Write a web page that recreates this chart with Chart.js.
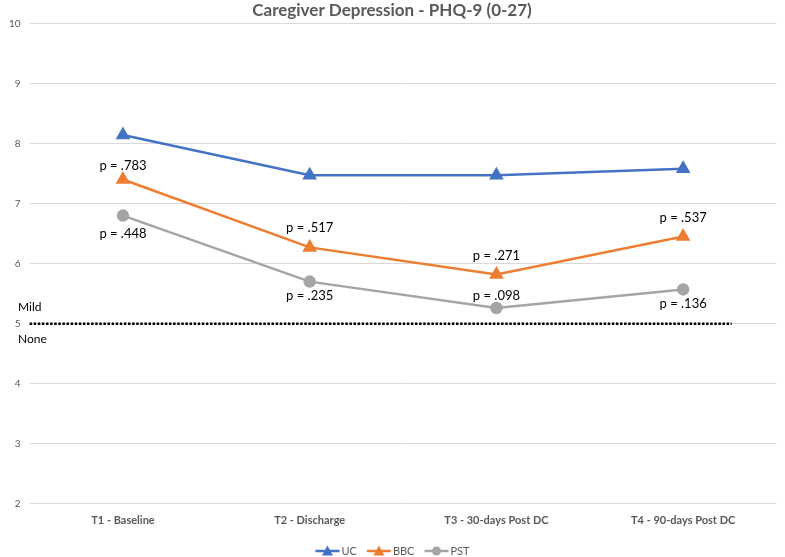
<!DOCTYPE html>
<html>
<head>
<meta charset="utf-8">
<title>Caregiver Depression - PHQ-9</title>
<script src="https://cdn.jsdelivr.net/npm/chart.js@4.4.0/dist/chart.umd.min.js"></script>
<style>
    html, body { margin: 0; padding: 0; background: #fff; }
    #wrap { width: 785px; height: 557px; }
</style>
</head>
<body>
<div id="wrap"><canvas id="phqChart" width="785" height="557"></canvas></div>
<script>
// Chart data
const timepoints = ['T1 - Baseline', 'T2 - Discharge', 'T3 - 30-days Post DC', 'T4 - 90-days Post DC'];
const ucScores = [8.14, 7.47, 7.47, 7.58];
const bbcScores = [7.40, 6.27, 5.82, 6.45];
const pstScores = [6.80, 5.70, 5.26, 5.57];
const bbcPValues = ['p = .783', 'p = .517', 'p = .271', 'p = .537'];
const pstPValues = ['p = .448', 'p = .235', 'p = .098', 'p = .136'];
const cutoffScore = 5;

// label offsets in px from the point (negative = above)
const bbcLabelShift = [-14, -20, -19, -19];
const pstLabelShift = [18, 14, -12, 14];

const FONT = 'Lato, "Open Sans", sans-serif';
const GREY_TEXT = '#595959';

// p-values, the dotted cut-off line and Mild / None labels
const notesPlugin = {
    id: 'notes',
    afterDatasetsDraw(chart) {
        const ctx = chart.ctx;
        const x = chart.scales.x;
        const y = chart.scales.y;
        const area = chart.chartArea;

        ctx.save();
        // cut-off line
        const yCut = y.getPixelForValue(cutoffScore);
        ctx.strokeStyle = '#000';
        ctx.lineWidth = 2.5;
        ctx.setLineDash([2.5, 1.6]);
        ctx.beginPath();
        ctx.moveTo(area.left, yCut);
        ctx.lineTo(x.getPixelForValue(3.26), yCut);
        ctx.stroke();
        ctx.setLineDash([]);

        ctx.fillStyle = '#000';
        ctx.font = '12px ' + FONT;
        ctx.textAlign = 'left';
        ctx.textBaseline = 'middle';
        ctx.fillText('Mild', 18, yCut - 17);
        ctx.fillText('None', 18, yCut + 15);

        // p-values
        ctx.font = '13px ' + FONT;
        ctx.textAlign = 'center';
        timepoints.forEach((t, i) => {
            const px = x.getPixelForValue(i);
            ctx.fillText(bbcPValues[i], px, y.getPixelForValue(bbcScores[i]) + bbcLabelShift[i]);
            ctx.fillText(pstPValues[i], px, y.getPixelForValue(pstScores[i]) + pstLabelShift[i]);
        });
        ctx.restore();
    }
};

// Excel-style legend: short line with the marker on it, then the name
const lineLegendPlugin = {
    id: 'lineLegend',
    afterDraw(chart) {
        const ctx = chart.ctx;
        const sets = chart.data.datasets;
        const swatchW = 24, textGap = 2, itemGap = 10;
        const legendY = chart.height - 6;

        ctx.save();
        ctx.font = '11px ' + FONT;
        const widths = sets.map(ds => swatchW + textGap + ctx.measureText(ds.label).width);
        const total = widths.reduce((a, b) => a + b, 0) + itemGap * (sets.length - 1);
        let lx = (chart.width - total) / 2;

        sets.forEach((ds, i) => {
            ctx.strokeStyle = ds.borderColor;
            ctx.fillStyle = ds.borderColor;
            ctx.lineWidth = 2.5;
            ctx.beginPath();
            ctx.moveTo(lx, legendY);
            ctx.lineTo(lx + swatchW, legendY);
            ctx.stroke();
            const cx = lx + swatchW / 2;
            ctx.beginPath();
            if (ds.pointStyle === 'triangle') {
                ctx.moveTo(cx, legendY - 5.5);
                ctx.lineTo(cx + 5.5, legendY + 4.5);
                ctx.lineTo(cx - 5.5, legendY + 4.5);
                ctx.closePath();
            } else {
                ctx.arc(cx, legendY, 4.5, 0, Math.PI * 2);
            }
            ctx.fill();

            ctx.fillStyle = GREY_TEXT;
            ctx.textAlign = 'left';
            ctx.textBaseline = 'middle';
            ctx.fillText(ds.label, lx + swatchW + textGap, legendY);
            lx += widths[i] + itemGap;
        });
        ctx.restore();
    }
};

const ctx = document.getElementById('phqChart');
new Chart(ctx, {
    type: 'line',
    data: {
        labels: timepoints,
        datasets: [
            {
                label: 'UC',
                data: ucScores,
                borderColor: '#4472C4',
                backgroundColor: '#4472C4',
                borderWidth: 2.5,
                pointStyle: 'triangle',
                pointRadius: 6,
                pointHoverRadius: 6
            },
            {
                label: 'BBC',
                data: bbcScores,
                borderColor: '#ED7D31',
                backgroundColor: '#ED7D31',
                borderWidth: 2.5,
                pointStyle: 'triangle',
                pointRadius: 6,
                pointHoverRadius: 6
            },
            {
                label: 'PST',
                data: pstScores,
                borderColor: '#A5A5A5',
                backgroundColor: '#A5A5A5',
                borderWidth: 2.5,
                pointStyle: 'circle',
                pointRadius: 5,
                pointHoverRadius: 5
            }
        ]
    },
    options: {
        responsive: false,
        animation: false,
        layout: { padding: { top: 0, right: 1, bottom: 28, left: 0 } },
        plugins: {
            title: {
                display: true,
                text: 'Caregiver Depression - PHQ-9 (0-27)',
                color: GREY_TEXT,
                font: { family: FONT, size: 17, weight: 'bold' },
                padding: { top: 0, bottom: 3 }
            },
            legend: { display: false },
            tooltip: { enabled: false }
        },
        scales: {
            x: {
                offset: true,
                grid: { display: false },
                border: { display: false },
                ticks: {
                    color: GREY_TEXT,
                    font: { family: FONT, size: 11, weight: 'bold' },
                    padding: 2
                }
            },
            y: {
                min: 2,
                max: 10,
                border: { display: false },
                grid: { color: '#D9D9D9', drawTicks: false },
                ticks: {
                    stepSize: 1,
                    color: GREY_TEXT,
                    font: { family: FONT, size: 10 },
                    padding: 9
                }
            }
        }
    },
    plugins: [notesPlugin, lineLegendPlugin]
});
</script>
</body>
</html>
